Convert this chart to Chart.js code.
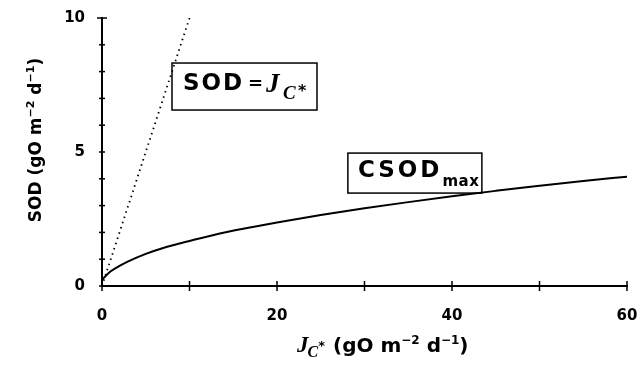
<!DOCTYPE html>
<html>
<head>
<meta charset="utf-8">
<script src="https://cdn.jsdelivr.net/npm/chart.js@4/dist/chart.umd.min.js"></script>
<style>
  html, body { margin: 0; padding: 0; background: #fff; }
  #wrap { width: 643px; height: 368px; }
</style>
</head>
<body>
<div id="wrap"><canvas id="sodChart"></canvas></div>
<script>
// SOD = Jc* (1:1 line)
const lineX = [0, 10];
const lineY = [0, 10];

// CSODmax curve
const curveX = [0, 0.2, 0.5, 1, 2, 3, 5, 7, 10, 14, 18, 20, 25, 30, 35, 40, 45, 50, 55, 60];
const curveY = [0.2, 0.3, 0.4, 0.55, 0.75, 0.92, 1.2, 1.42, 1.68, 2.0, 2.25, 2.37, 2.65, 2.9, 3.13, 3.35, 3.55, 3.74, 3.92, 4.08];

const xTickLabels = [0, 20, 40, 60];
const yTickLabels = [0, 5, 10];

const SANS = '"DejaVu Sans", Verdana, sans-serif';
const SERIF = '"Liberation Serif", "Times New Roman", serif';

const toPoints = (xs, ys) => xs.map((x, i) => ({ x: x, y: ys[i] }));

// draws "(gO m-2 d-1)" with raised exponents, returns width
function unitText(c, x, base, size, draw) {
  const parts = [['(gO m', 0], ['\u2212' + '2', 1], [' d', 0], ['\u2212' + '1', 1], [')', 0]];
  let w = 0;
  parts.forEach(([t, sup]) => {
    c.font = 'bold ' + (sup ? Math.round(size * 0.62) : size) + 'px ' + SANS;
    if (draw) c.fillText(t, x + w, sup ? base - size * 0.42 : base);
    w += c.measureText(t).width;
  });
  return w;
}

// tick marks crossing the axes, text boxes, axis titles
const extras = {
  id: 'extras',
  afterDraw(chart) {
    const c = chart.ctx;
    const xs = chart.scales.x, ys = chart.scales.y;
    const x0 = xs.getPixelForValue(0), y0 = ys.getPixelForValue(0);
    c.save();
    c.strokeStyle = '#000';
    c.fillStyle = '#000';
    c.lineWidth = 1.5;
    xs.ticks.forEach(t => {
      const px = xs.getPixelForValue(t.value);
      c.beginPath(); c.moveTo(px, y0 - 5); c.lineTo(px, y0 + 5); c.stroke();
    });
    ys.ticks.forEach(t => {
      const py = ys.getPixelForValue(t.value);
      const w = t.value === 10 ? 5 : 3;
      c.beginPath(); c.moveTo(x0 - w, py); c.lineTo(x0 + w, py); c.stroke();
    });

    c.textBaseline = 'alphabetic';
    c.textAlign = 'left';

    // box 1: SOD = Jc*
    let bx = xs.getPixelForValue(8.0), by = ys.getPixelForValue(8.32);
    c.strokeRect(bx, by, 145, 47);
    let base = by + 27;
    c.font = 'bold 23px ' + SANS;
    c.letterSpacing = '2px';
    c.fillText('SOD', bx + 11, base);
    c.letterSpacing = '0px';
    c.font = 'bold 18px ' + SANS;
    c.fillText('=', bx + 76, base - 1);
    c.font = 'bold italic 27px ' + SERIF;
    c.fillText('J', bx + 94, base + 2);
    c.font = 'bold italic 19px ' + SERIF;
    c.fillText('C', bx + 111, base + 9);
    c.font = 'bold 16px ' + SANS;
    c.fillText('*', bx + 126, base + 6);

    // box 2: CSODmax
    bx = xs.getPixelForValue(28.1); by = ys.getPixelForValue(4.96);
    c.strokeRect(bx, by, 134, 40);
    let tx = bx + 10;
    base = by + 24;
    c.font = 'bold 23px ' + SANS;
    c.letterSpacing = '3px';
    c.fillText('CSOD', tx, base);
    tx += c.measureText('CSOD').width;
    c.letterSpacing = '0.5px';
    c.font = 'bold 15px ' + SANS;
    c.fillText('max', tx, base + 9);
    c.letterSpacing = '0px';

    // x axis title: Jc* (gO m-2 d-1)
    tx = 297; base = 352;
    c.font = 'bold italic 23px ' + SERIF;
    c.fillText('J', tx, base);
    tx += c.measureText('J').width - 1;
    c.font = 'bold italic 16px ' + SERIF;
    c.fillText('C', tx, base + 5);
    tx += c.measureText('C').width;
    c.font = 'bold 13px ' + SANS;
    c.fillText('*', tx, base - 2);
    unitText(c, 333, base, 20, true);

    // y axis title: SOD (gO m-2 d-1)
    c.translate(41, 140);
    c.rotate(-Math.PI / 2);
    c.font = 'bold 17px ' + SANS;
    const wS = c.measureText('SOD ').width;
    const wU = unitText(c, 0, 0, 17, false);
    c.font = 'bold 17px ' + SANS;
    c.fillText('SOD ', -(wS + wU) / 2, 0);
    unitText(c, -(wS + wU) / 2 + wS, 0, 17, true);
    c.restore();
  }
};

new Chart(document.getElementById('sodChart'), {
  type: 'scatter',
  data: {
    datasets: [{
      label: 'SOD = Jc*',
      data: toPoints(lineX, lineY),
      showLine: true,
      borderColor: '#000',
      borderWidth: 1.8,
      borderDash: [1.5, 4],
      pointRadius: 0,
      fill: false
    }, {
      label: 'CSODmax',
      data: toPoints(curveX, curveY),
      showLine: true,
      borderColor: '#000',
      borderWidth: 2,
      cubicInterpolationMode: 'monotone',
      pointRadius: 0,
      fill: false
    }]
  },
  options: {
    responsive: true,
    maintainAspectRatio: false,
    animation: false,
    layout: { padding: { left: 0, right: 16, top: 18, bottom: 0 } },
    plugins: { legend: { display: false }, tooltip: { enabled: false } },
    scales: {
      x: {
        type: 'linear',
        min: 0, max: 60,
        grid: { display: true, drawOnChartArea: false, drawTicks: true, tickLength: 21, tickColor: 'rgba(0,0,0,0)' },
        border: { display: true, color: '#000', width: 2 },
        ticks: {
          stepSize: 10,
          padding: 0,
          color: '#000',
          font: { family: SANS, size: 15, weight: 'bold' },
          callback: v => xTickLabels.includes(v) ? String(v) : ''
        },
        afterFit(s) { s.height = 82; }
      },
      y: {
        type: 'linear',
        min: 0, max: 10,
        grid: { display: true, drawOnChartArea: false, drawTicks: true, tickLength: 17, tickColor: 'rgba(0,0,0,0)' },
        border: { display: true, color: '#000', width: 2 },
        ticks: {
          stepSize: 1,
          padding: 0,
          color: '#000',
          font: { family: SANS, size: 15, weight: 'bold' },
          callback: v => yTickLabels.includes(v) ? String(v) : ''
        },
        afterFit(s) { s.width = 102; }
      }
    }
  },
  plugins: [extras]
});
</script>
</body>
</html>
